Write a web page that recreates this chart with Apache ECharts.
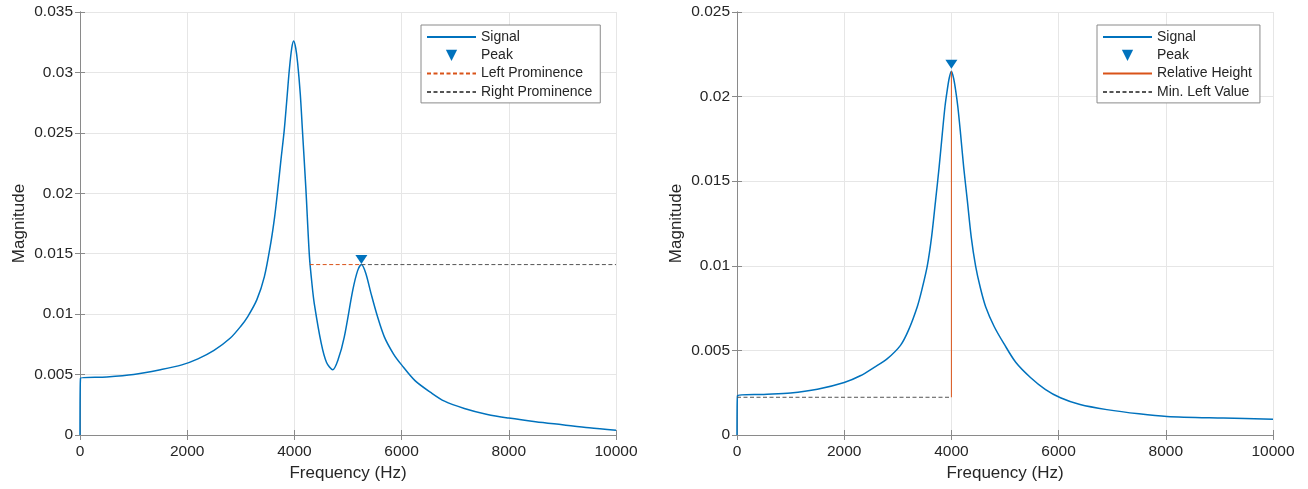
<!DOCTYPE html>
<html>
<head>
<meta charset="utf-8">
<script src="https://cdn.jsdelivr.net/npm/echarts@6/dist/echarts.min.js"></script>
<style>
html,body{margin:0;padding:0;background:#fff;}
#chart{width:1308px;height:489px;}
</style>
</head>
<body>
<div id="chart"></div>
<script>
// ---- data ----
const xTicks = [0, 2000, 4000, 6000, 8000, 10000];
const leftYTicks = [0, 0.005, 0.01, 0.015, 0.02, 0.025, 0.03, 0.035];
const rightYTicks = [0, 0.005, 0.01, 0.015, 0.02, 0.025];

const leftFreq = [0, 10, 500, 1000, 1500, 1900, 2200, 2500, 2800, 3000, 3130, 3300, 3440, 3560, 3630, 3690, 3750, 3810, 3860, 3905, 3950, 3987, 4025, 4060, 4110, 4150, 4215, 4280, 4330, 4370, 4500, 4600, 4714, 4820, 4930, 5090, 5180, 5250, 5330, 5430, 5550, 5680, 5850, 6000, 6250, 6550, 6800, 7170, 7600, 8000, 8500, 9000, 9500, 10000];
const leftMag = [0, 0.0047, 0.0048, 0.0050, 0.0054, 0.0058, 0.0063, 0.0070, 0.0080, 0.0090, 0.0098, 0.0112, 0.0131, 0.0159, 0.0180, 0.0203, 0.0228, 0.0252, 0.0278, 0.0302, 0.0320, 0.0326, 0.0320, 0.0308, 0.0282, 0.0252, 0.0203, 0.0148, 0.0124, 0.0109, 0.0076, 0.0060, 0.0054, 0.0063, 0.0081, 0.0120, 0.0136, 0.0141, 0.0134, 0.0117, 0.0098, 0.0081, 0.0067, 0.0058, 0.0045, 0.0035, 0.0028, 0.0022, 0.0017, 0.0014, 0.0011, 0.00085, 0.0006, 0.0004];
const leftPeak = [5250, 0.0141];
const leftPromStart = 4285;

const rightFreq = [0, 10, 500, 1000, 1500, 2000, 2300, 2560, 2800, 3050, 3200, 3365, 3450, 3550, 3630, 3706, 3770, 3830, 3880, 3923, 3960, 4000, 4040, 4078, 4120, 4171, 4230, 4296, 4370, 4451, 4540, 4637, 4800, 4980, 5200, 5475, 5750, 6034, 6400, 6900, 7500, 8020, 9075, 10000];
const rightMag = [0, 0.00232, 0.0024, 0.00248, 0.0027, 0.0031, 0.0035, 0.0040, 0.0045, 0.0053, 0.0062, 0.0076, 0.0086, 0.0100, 0.0117, 0.0139, 0.0158, 0.0178, 0.0194, 0.0204, 0.0211, 0.0215, 0.0211, 0.0204, 0.0194, 0.0178, 0.0158, 0.0139, 0.0117, 0.0100, 0.0087, 0.0076, 0.0064, 0.0054, 0.0043, 0.0034, 0.0027, 0.0022, 0.0018, 0.0015, 0.00125, 0.0011, 0.0010, 0.00093];
const rightPeak = [4000, 0.0215];
const minLeftValue = 0.00223;

const leftLegend = ['Signal', 'Peak', 'Left Prominence', 'Right Prominence'];
const rightLegend = ['Signal', 'Peak', 'Relative Height', 'Min. Left Value'];

// ---- styles ----
const BLUE = '#0072BD';
const ORANGE = '#D95319';
const GREY_DASH = '#555555';
const AXIS = '#8a8a8a';
const TEXT = '#262626';
const FONT = 'Liberation Sans, Arial, Helvetica, sans-serif';
const TRI = 'path://M0,0L12,0L6,9Z';

const zip = (a, b) => a.map((v, i) => [v, b[i]]);

function xAxisPair(gridIndex) {
  return [
    {
      type: 'value', gridIndex, min: xTicks[0], max: xTicks[xTicks.length - 1], interval: 2000,
      name: 'Frequency (Hz)', nameLocation: 'middle', nameGap: 23,
      nameTextStyle: {color: TEXT, fontSize: 17, fontFamily: FONT},
      axisLine: {show: true, lineStyle: {color: AXIS, width: 1}},
      axisTick: {show: true, inside: true, length: 5, lineStyle: {color: AXIS}},
      axisLabel: {color: TEXT, fontSize: 15.5, fontFamily: FONT, margin: 9, formatter: v => String(v)},
      splitLine: {show: true, lineStyle: {color: '#e6e6e6', width: 1}}
    },
    {
      type: 'value', gridIndex, position: 'top', min: xTicks[0], max: xTicks[xTicks.length - 1], interval: 2000,
      axisLine: {show: true, lineStyle: {color: AXIS, width: 1}},
      axisTick: {show: true, inside: true, length: 5, lineStyle: {color: AXIS}},
      axisLabel: {show: false}, splitLine: {show: false}
    }
  ];
}
function yAxisPair(gridIndex, ticks) {
  const mx = ticks[ticks.length - 1];
  return [
    {
      type: 'value', gridIndex, min: 0, max: mx, interval: 0.005,
      name: 'Magnitude', nameLocation: 'middle', nameGap: 52,
      nameTextStyle: {color: TEXT, fontSize: 17, fontFamily: FONT},
      axisLine: {show: true, lineStyle: {color: AXIS, width: 1}},
      axisTick: {show: true, inside: true, length: 5, lineStyle: {color: AXIS}},
      axisLabel: {color: TEXT, fontSize: 15.5, fontFamily: FONT, margin: 7},
      splitLine: {show: true, lineStyle: {color: '#e6e6e6', width: 1}}
    },
    {
      type: 'value', gridIndex, position: 'right', min: 0, max: mx, interval: 0.005,
      axisLine: {show: true, lineStyle: {color: AXIS, width: 1}},
      axisTick: {show: true, inside: true, length: 5, lineStyle: {color: AXIS}},
      axisLabel: {show: false}, splitLine: {show: false}
    }
  ];
}

const HIDDEN_SYMBOL = {color: 'rgba(0,0,0,0)', borderWidth: 0, opacity: 0};
function legendBox(left, names) {
  return {
    orient: 'vertical', left, top: 25,
    data: names.map(n => n === 'Peak' ? {name: n} : {name: n, itemStyle: HIDDEN_SYMBOL}),
    itemWidth: 49, itemHeight: 14, itemGap: 4.3,
    padding: [5, 8, 4, 5],
    borderColor: AXIS, borderWidth: 1, backgroundColor: '#fff',
    selectedMode: false,
    textStyle: {color: TEXT, fontSize: 14, fontFamily: FONT, lineHeight: 14}
  };
}

function plainLine(name, xi, data, color, type, z) {
  return {name, type: 'line', xAxisIndex: xi, yAxisIndex: xi, data, symbol: 'none', showSymbol: false,
    lineStyle: {color, width: 1, type}, itemStyle: {color}, z};
}

const chart = echarts.init(document.getElementById('chart'), null, {renderer: 'canvas'});
chart.setOption({
  animation: false,
  backgroundColor: '#fff',
  grid: [
    {left: 80, top: 12, width: 536, height: 423, containLabel: false},
    {left: 737, top: 12, width: 536, height: 423, containLabel: false}
  ],
  xAxis: [...xAxisPair(0), ...xAxisPair(1)],
  yAxis: [...yAxisPair(0, leftYTicks), ...yAxisPair(1, rightYTicks)],
  legend: [legendBox(421, leftLegend), legendBox(1097, rightLegend)],
  series: [
    {name: 'Signal', type: 'line', xAxisIndex: 0, yAxisIndex: 0, data: zip(leftFreq, leftMag),
      symbol: 'none', showSymbol: false, smooth: 0.3, lineStyle: {color: BLUE, width: 1.5}, itemStyle: {color: BLUE}, z: 2},
    plainLine('Left Prominence', 0, [[leftPromStart, leftPeak[1]], leftPeak], ORANGE, [4, 2.5], 3),
    plainLine('Right Prominence', 0, [leftPeak, [xTicks[xTicks.length - 1], leftPeak[1]]], GREY_DASH, [4, 2.5], 3),
    {name: 'Peak', type: 'line', xAxisIndex: 0, yAxisIndex: 0, data: [leftPeak],
      symbol: TRI, symbolSize: [12, 9], symbolOffset: [0, -5], showSymbol: true,
      lineStyle: {width: 0, opacity: 0}, itemStyle: {color: BLUE}, z: 5},

    {name: 'Signal', type: 'line', xAxisIndex: 2, yAxisIndex: 2, data: zip(rightFreq, rightMag),
      symbol: 'none', showSymbol: false, smooth: 0.3, lineStyle: {color: BLUE, width: 1.5}, itemStyle: {color: BLUE}, z: 2},
    plainLine('Relative Height', 2, [[rightPeak[0], minLeftValue], rightPeak], ORANGE, 'solid', 3),
    plainLine('Min. Left Value', 2, [[0, minLeftValue], [rightPeak[0], minLeftValue]], GREY_DASH, [4, 2.5], 3),
    {name: 'Peak', type: 'line', xAxisIndex: 2, yAxisIndex: 2, data: [rightPeak],
      symbol: TRI, symbolSize: [12, 9], symbolOffset: [0, -7], showSymbol: true,
      lineStyle: {width: 0, opacity: 0}, itemStyle: {color: BLUE}, z: 5}
  ]
});
</script>
</body>
</html>
